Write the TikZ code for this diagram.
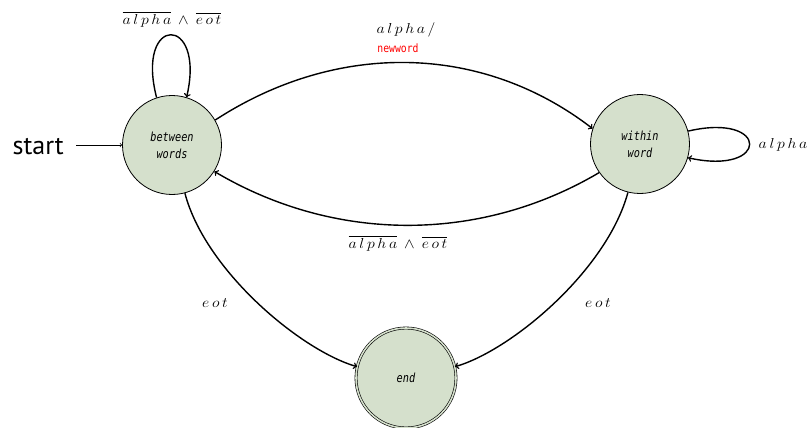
\documentclass[tikz,border=0pt]{standalone}
\usepackage{fontspec}
\usepackage{amsmath}
\usepackage{graphicx}
\newfontfamily\labelsans{PT Sans}
\newfontfamily\statemono[FakeStretch=0.82]{DejaVu Sans Mono}
\newfontfamily\actionmono[FakeStretch=0.85]{DejaVu Sans Mono}
\definecolor{statefill}{RGB}{213,224,204}
% widely set math words used on the transition labels
\newcommand\wsp{\mkern3mu}
\newcommand\tlabel[1]{\scalebox{1.1}[1]{$#1$}}
\newcommand\wAlpha{a\wsp l\wsp p\wsp h\wsp a}
\newcommand\wEot{e\wsp o\wsp t}
\begin{document}
\begin{tikzpicture}[x=1pt,y=-1pt,
  state/.style={circle,draw=black,line width=0.8pt,fill=statefill,minimum size=99pt,inner sep=0pt,
    align=center,font=\statemono\itshape\fontsize{12.5}{17}\selectfont},
  accepting/.style={double=statefill,double distance=1.6pt,line width=0.6pt,minimum size=100pt},
  trans/.style={->,>=to,line width=1.4pt},
  lab/.style={font=\fontsize{15}{17}\selectfont,inner sep=1pt}]
  \useasboundingbox (0,0) rectangle (809,428);

  % states
  \node[state] (b) at (172,145) {between\\words};
  \node[state] (w) at (640,144) {within\\word};
  \node[state,accepting] (e) at (406,378) {end};
  \node[font=\labelsans\fontsize{26}{30}\selectfont,anchor=east,inner sep=0pt] (s) at (64,147) {start};

  % initial arrow
  \draw[->,>=to,line width=0.7pt] ([xshift=12pt]s.east|-b.west) -- (b.west);

  % transitions
  \draw[trans] (b.108) .. controls (135,14) and (206,14) .. (b.73);
  \node[lab] (l1) at (172,19) {\tlabel{\overline{\wAlpha}\mkern4mu\wedge\mkern4mu\overline{\wEot}}};

  \draw[trans] (b.30) .. controls (335,42) and (480,42) .. (w.162);
  \node[lab] (l2) at (406,30) {\tlabel{\wAlpha\,/}};
  \node[font=\actionmono\fontsize{11.5}{13}\selectfont,text=red] (l3) at (398,48) {newword};

  \draw[trans] (w.-145) .. controls (480,243) and (335,243) .. (b.-32);
  \node[lab] (l4) at (398,243) {\tlabel{\overline{\wAlpha}\mkern4mu\wedge\mkern4mu\overline{\wEot}}};

  \draw[trans] (w.15) .. controls (770,112) and (770,176) .. (w.-16);
  \node[lab] (l5) at (783,145) {\tlabel{\wAlpha}};

  \draw[trans] (b.-75) .. controls (205,270) and (300,350) .. (e.167);
  \node[lab] (l6) at (215,303) {\tlabel{\wEot}};

  \draw[trans] (w.-104) .. controls (607,270) and (512,350) .. (e.13);
  \node[lab] (l7) at (598,303) {\tlabel{\wEot}};
\end{tikzpicture}
\end{document}
